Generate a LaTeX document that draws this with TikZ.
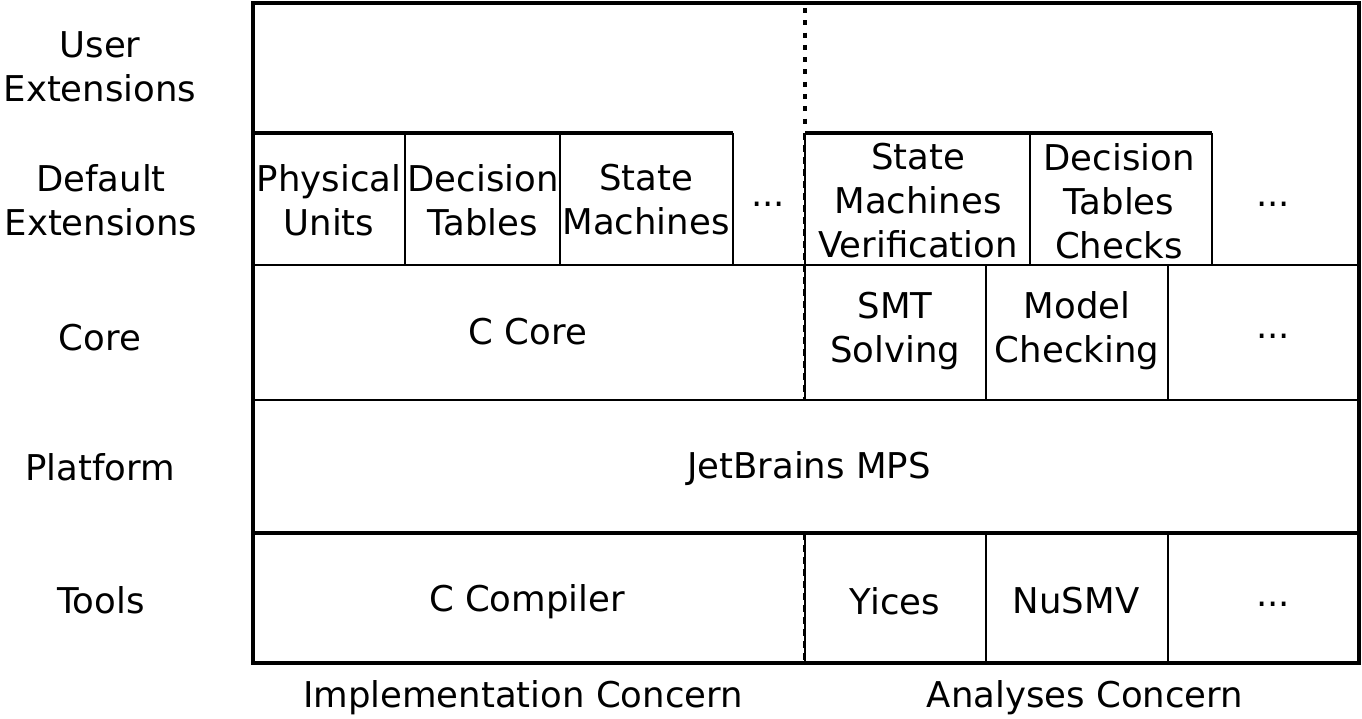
\documentclass[tikz,border=0pt]{standalone}
\usepackage{fontspec}
\setmainfont{DejaVu Sans}
\begin{document}
\begin{tikzpicture}[x=1pt,y=-1pt,
  lbl/.style={align=center,inner sep=0pt,font=\fontsize{35.5}{44}\selectfont},
  thick frame/.style={line width=4.6pt,line cap=rect},
  cellline/.style={line width=1.4pt},
  rowline/.style={line width=2.8pt},
  dotline/.style={line width=3.5pt,dash pattern=on 5pt off 7.3pt},
  dashline/.style={line width=3pt,dash pattern=on 7pt off 5pt}]
\useasboundingbox (0,0) rectangle (1362,719);
% thin cell dividers
\draw[cellline] (405,133) -- (405,265);
\draw[cellline] (560,133) -- (560,265);
\draw[cellline] (733,133) -- (733,265);
\draw[cellline] (1030,133) -- (1030,265);
\draw[cellline] (1212,133) -- (1212,265);
\draw[cellline] (986,265) -- (986,400);
\draw[cellline] (1168,265) -- (1168,400);
\draw[cellline] (986,533) -- (986,663);
\draw[cellline] (1168,533) -- (1168,663);
% row lines
\draw[rowline] (253,265) -- (1359,265);
\draw[rowline] (253,400) -- (1359,400);
\draw[line width=3.8pt] (253,533) -- (1359,533);
\draw[line width=3.5pt] (253,133) -- (733,133);
\draw[line width=3.5pt] (805,133) -- (1212,133);
% concern separators
\draw[dotline] (805,8) -- (805,128);
\draw[cellline] (805,133) -- (805,400);
\draw[dashline] (804.5,133) -- (804.5,400);
\draw[cellline] (805,533) -- (805,663);
\draw[dashline] (804.5,533) -- (804.5,663);
% outer frame
\draw[thick frame] (253,3) rectangle (1359,663);
% left labels
\node[lbl] (lu) at (100,67) {User\\Extensions};
\node[lbl] (ld) at (101,200) {Default\\Extensions};
\node[lbl] (lc) at (100,338) {Core};
\node[lbl] (lp) at (100,467) {Platform};
\node[lbl] (lt) at (101,600) {Tools};
% default extensions
\node[lbl] (pu) at (329,200) {Physical\\Units};
\node[lbl] (dt) at (483,200) {Decision\\Tables};
\node[lbl] (sm) at (646,200) {State\\Machines};
\node[lbl] (d1) at (768,204) {...};
\node[lbl] (smv) at (918,201) {State\\Machines\\Verification};
\node[lbl] (dtc) at (1119,201) {Decision\\Tables\\Checks};
\node[lbl] (d2) at (1273,204) {...};
% core
\node[lbl] (cc) at (528,332) {C Core};
\node[lbl] (smt) at (895,331) {SMT\\Solving};
\node[lbl] (mc) at (1077,331) {Model\\Checking};
\node[lbl] (d3) at (1273,336) {...};
% platform
\node[lbl] (mps) at (809,469) {JetBrains MPS};
% tools
\node[lbl] (ccomp) at (527,602) {C Compiler};
\node[lbl] (yi) at (895,601) {Yices};
\node[lbl] (nu) at (1076,601) {NuSMV};
\node[lbl] (d4) at (1273,604) {...};
% concerns
\node[lbl] (ic) at (523,698) {Implementation Concern};
\node[lbl] (ac) at (1085,698) {Analyses Concern};
\end{tikzpicture}
\end{document}
